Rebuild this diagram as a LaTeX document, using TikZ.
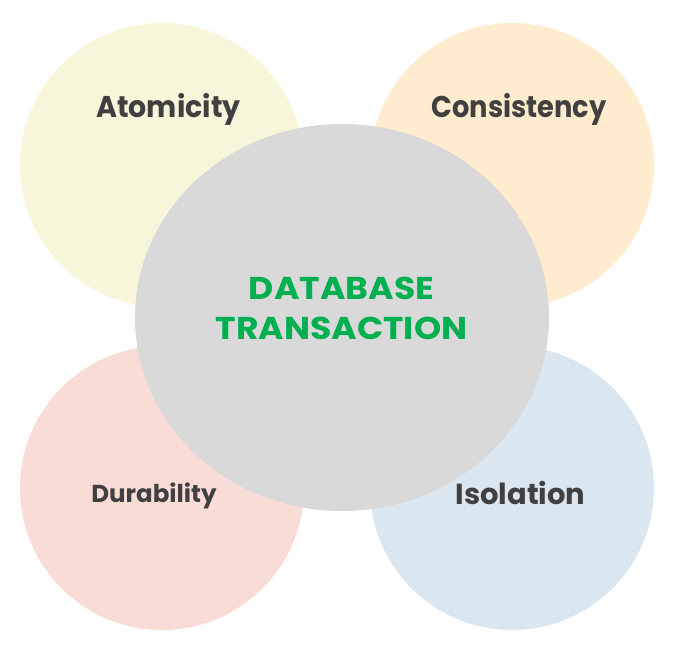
\documentclass[tikz,border=0pt]{standalone}
\usepackage{fontspec}
\setmainfont{Poppins}
\usepackage{xcolor}
\definecolor{cAtom}{HTML}{F7F5DA}
\definecolor{cCons}{HTML}{FFEBCD}
\definecolor{cDura}{HTML}{F9DCD5}
\definecolor{cIsol}{HTML}{DAE7F1}
\definecolor{cCore}{HTML}{D9D9D9}
\definecolor{cText}{HTML}{404040}
\definecolor{cGreen}{HTML}{00B050}
\usetikzlibrary{shapes.geometric}
\tikzset{
  node-prop/.style={circle,draw=none,minimum size=284pt,inner sep=0pt},
  node-core/.style={ellipse,draw=none,fill=cCore,minimum width=414pt,
    minimum height=387pt,inner sep=0pt},
  label-prop/.style={anchor=base,text=cText,font=\bfseries,inner sep=0pt},
  label-core/.style={anchor=base,text=cGreen,font=\bfseries\fontsize{31.5}{31.5}\selectfont,inner sep=0pt},
}
\begin{document}
\begin{tikzpicture}[x=1pt,y=-1pt]
  \useasboundingbox (0,0) rectangle (679,651);
  % four ACID circles
  \node[node-prop,fill=cAtom] (atom) at (162,165) {};
  \node[node-prop,fill=cCons] (cons) at (512,165) {};
  \node[node-prop,fill=cDura] (dura) at (162,488) {};
  \node[node-prop,fill=cIsol] (isol) at (512,488) {};
  % centre
  \node[node-core] (core) at (342,317.5) {};
  % texts
  \node[label-prop,font=\bfseries\fontsize{30}{30}\selectfont] (atom-txt) at (168.5,117) {\scalebox{0.95}[1]{Atomicity}};
  \node[label-prop,font=\bfseries\fontsize{30}{30}\selectfont] (cons-txt) at (519,117) {\scalebox{0.91}[1]{Consistency}};
  \node[label-prop,font=\bfseries\fontsize{24.5}{24.5}\selectfont] (dura-txt) at (154,502) {Durability};
  \node[label-prop,font=\bfseries\fontsize{29}{29}\selectfont] (isol-txt) at (520.5,504) {Isolation};
  \node[label-core] (core-txt1) at (341.5,299) {\scalebox{1.1}[1]{DATABASE}};
  \node[label-core] (core-txt2) at (341.5,339) {\scalebox{1.1}[1]{TRANSACTION}};
\end{tikzpicture}
\end{document}
